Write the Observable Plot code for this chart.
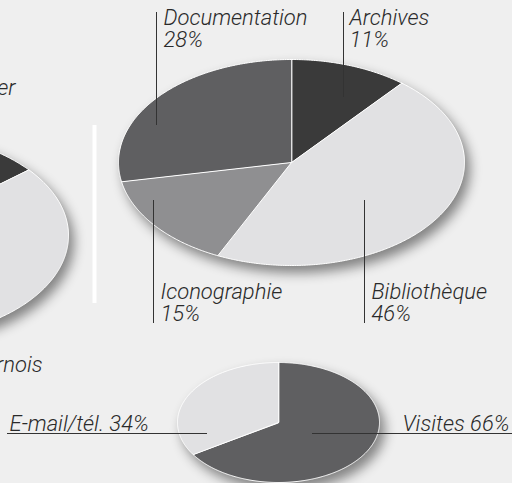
<!DOCTYPE html>
<html><head><meta charset="utf-8">
<script src="https://cdn.jsdelivr.net/npm/d3@7"></script>
<script src="https://cdn.jsdelivr.net/npm/@observablehq/plot@0.6"></script>
<style>
html,body{margin:0;padding:0;background:#efefef;overflow:hidden}
#chart svg{display:block}
</style></head><body><div id="chart"></div>
<script>
// ---- Data ----
const mainCategories = ["Archives", "Bibliothèque", "Iconographie", "Documentation"];
const mainValues = [11, 46, 15, 28];
const mainLabels = ["Archives\n11%", "Bibliothèque\n46%", "Iconographie\n15%", "Documentation\n28%"];

const contactCategories = ["Visites", "E-mail/tél."];
const contactValues = [66, 34];
const contactLabels = ["Visites 66%", "E-mail/tél. 34%"];

// partial pie cut off at the left edge of the picture
const leftCategories = ["a", "b", "c"];
const leftValues = [14, 50, 36];
const leftLabels = ["er", "rnois"];

// ---- Layout / style ----
const W = 512, H = 483;
const pies = [
  {cats: leftCategories, vals: leftValues, cx: -105, cy: 235, rx: 173, ry: 103,
   colors: ["#3a3a3a", "#e1e1e3", "#8f8f91"]},
  {cats: mainCategories, vals: mainValues, cx: 291, cy: 162, rx: 173, ry: 103,
   colors: ["#3a3a3a", "#e1e1e3", "#8f8f91", "#5f5f61"]},
  {cats: contactCategories, vals: contactValues, cx: 278, cy: 422, rx: 101, ry: 60,
   colors: ["#5f5f61", "#e1e1e3"]}
];

const pts = [];
pies.forEach((p, pi) => {
  const arcs = d3.pie().sort(null).value(d => d)(p.vals);
  arcs.forEach((a, i) => {
    const id = pi + ":" + p.cats[i];
    const fill = p.colors[i];
    pts.push({id, x: p.cx, y: p.cy, fill});
    const n = Math.max(2, Math.ceil((a.endAngle - a.startAngle) / 0.01));
    for (let k = 0; k <= n; k++) {
      const t = a.startAngle + (a.endAngle - a.startAngle) * k / n;
      pts.push({id, x: p.cx + p.rx * Math.sin(t), y: p.cy - p.ry * Math.cos(t), fill});
    }
  });
});

// label anchors (text position and leader lines)
const mainLabelPos = [
  {x: 349, y: 46, lx: 343, ly1: 12, ly2: 97},
  {x: 371, y: 320, lx: 364, ly1: 200, ly2: 323},
  {x: 160, y: 320, lx: 153, ly1: 200, ly2: 323},
  {x: 163, y: 46, lx: 156, ly1: 12, ly2: 125}
];
const mainText = mainLabels.map((t, i) => ({text: t, ...mainLabelPos[i]}));

const contactRight = [{text: contactLabels[0], x: 509, y: 430, lx1: 312, lx2: 512, ly: 433}];
const contactLeft = [{text: contactLabels[1], x: 9, y: 430, lx1: 7, lx2: 207, ly: 433}];
const leftText = [
  {text: leftLabels[0], x: 15, y: 94},
  {text: leftLabels[1], x: 42, y: 371}
];
const divider = [{x: 94, y1: 125, y2: 303}];

const font = {fontSize: 22, fontStyle: "italic", fontWeight: 300, fill: "#2a2a2a"};

const chart = Plot.plot({
  width: W, height: H,
  margin: 0,
  style: {background: "#efefef", fontFamily: "Roboto, 'Liberation Sans', sans-serif"},
  x: {domain: [0, W], range: [0, W], axis: null},
  y: {domain: [0, H], range: [0, H], axis: null},
  color: {type: "identity"},
  marks: [
    Plot.ruleX(divider, {x: "x", y1: "y1", y2: "y2", stroke: "white", strokeWidth: 4}),
    Plot.line(pts, {x: "x", y: "y", z: "id", fill: "fill", stroke: "white", strokeWidth: 1, curve: "linear-closed"}),
    Plot.ruleX(mainText, {x: "lx", y1: "ly1", y2: "ly2", stroke: "#333", strokeWidth: 1}),
    Plot.ruleY(contactRight.concat(contactLeft), {y: "ly", x1: "lx1", x2: "lx2", stroke: "#333", strokeWidth: 1}),
    Plot.text(mainText, {x: "x", y: "y", text: "text", textAnchor: "start", lineAnchor: "bottom", lineHeight: 0.96, ...font}),
    Plot.text(contactRight, {x: "x", y: "y", text: "text", textAnchor: "end", lineAnchor: "bottom", ...font}),
    Plot.text(contactLeft, {x: "x", y: "y", text: "text", textAnchor: "start", lineAnchor: "bottom", ...font}),
    Plot.text(leftText, {x: "x", y: "y", text: "text", textAnchor: "end", lineAnchor: "bottom", ...font})
  ]
});
d3.select(chart).selectAll("g[aria-label='line']").style("filter", "drop-shadow(5px 7px 6px rgba(0,0,0,0.45))");
document.getElementById("chart").appendChild(chart);
</script>
</body></html>
